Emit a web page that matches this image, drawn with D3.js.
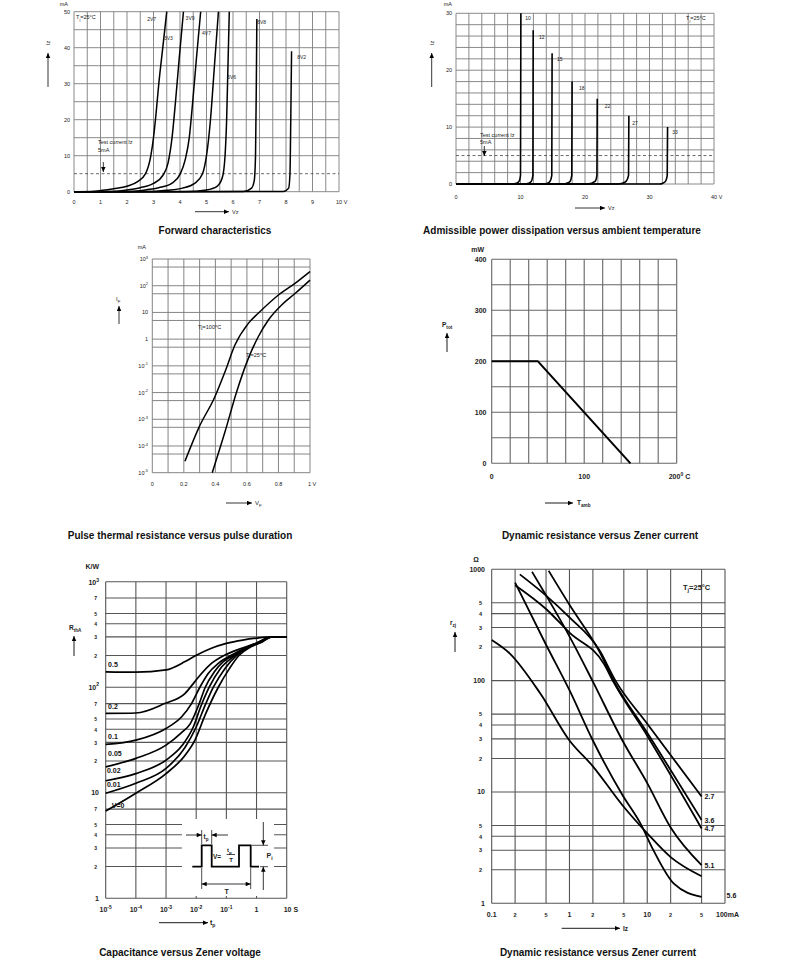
<!DOCTYPE html>
<meta charset="utf-8">
<head>
<title>Zener diode characteristics</title>
<style>
body {
  margin: 0;
  background: #fff;
  font-family: "Liberation Sans", Arial, sans-serif;
}
.curve {
  fill: none;
  stroke: #000;
  stroke-linejoin: round;
}
.title {
  font: bold 10px "Liberation Sans", Arial, sans-serif;
  fill: #111;
}
</style>
</head>
<body>
<script src="https://d3js.org/d3.v7.min.js"></script>
<script>

// ---------- data ----------

// Forward characteristics: Vz (V), Iz (mA)
var fwdNames = ["2V7", "3V3", "3V9", "4V7", "5V6", "6V8", "8V2"];
var fwd2V7 = [[0,0],[0.6,0.02],[1,0.3],[1.5,0.8],[2,1.5],[2.4,2.8],[2.7,5],[2.9,10],[3.0,15],[3.1,22],[3.2,30],[3.35,40],[3.5,50]];
var fwd3V3 = [[0,0],[1.3,0.05],[2,0.5],[2.5,1.1],[3,2.3],[3.35,4.5],[3.55,8],[3.7,15],[3.83,25],[3.97,37],[4.13,50]];
var fwd3V9 = [[0,0],[2,0.05],[2.7,0.5],[3.2,1.1],[3.7,2.4],[4.0,4.8],[4.2,9],[4.35,15],[4.48,25],[4.62,37],[4.78,50]];
var fwd4V7 = [[0,0],[2.8,0.05],[3.5,0.4],[4.1,1],[4.55,2.3],[4.85,5],[5.0,10],[5.15,20],[5.3,35],[5.45,50]];
var fwd5V6 = [[0,0],[4.2,0.05],[5,0.5],[5.4,1.5],[5.6,4],[5.7,10],[5.76,20],[5.81,35],[5.86,50]];
var fwd6V8 = [[0,0],[6.4,0.05],[6.7,1],[6.8,3],[6.85,10],[6.88,30],[6.9,48]];
var fwd8V2 = [[0,0],[7.9,0.05],[8.1,1],[8.15,5],[8.18,20],[8.21,39]];
var fwdLabelAt = [[2.93,48],[3.56,42.6],[4.38,48.2],[5.0,44],[5.95,32],[7.08,47.2],[8.59,37.5]];
var fwdXTicks = [0,1,2,3,4,5,6,7,8,9,10];
var fwdYTicks = [0,10,20,30,40,50];

// Second panel: Vz (V), Iz (mA)
var zNames = ["10", "12", "15", "18", "22", "27", "33"];
var z10 = [[0,0],[8.6,0.01],[9.4,0.15],[9.8,0.5],[10.0,1.5],[10.06,30]];
var z12 = [[0,0],[10.5,0.01],[11.3,0.15],[11.7,0.5],[11.92,1.5],[11.97,27]];
var z15 = [[0,0],[13.5,0.01],[14.2,0.15],[14.6,0.5],[14.85,1.5],[14.9,23]];
var z18 = [[0,0],[16.5,0.01],[17.2,0.15],[17.7,0.5],[17.95,1.5],[18.0,18]];
var z22 = [[0,0],[20.3,0.01],[21.0,0.15],[21.6,0.5],[21.85,1.5],[21.9,15]];
var z27 = [[0,0],[25.0,0.01],[25.8,0.15],[26.4,0.5],[26.75,1.5],[26.8,12]];
var z33 = [[0,0],[31.5,0.01],[32.1,0.15],[32.5,0.5],[32.75,1.5],[32.8,10]];
var zLabelAt = [[11.16,29.2],[13.3,25.9],[16.1,21.9],[19.5,16.8],[23.5,13.7],[27.75,10.8],[33.95,9.2]];
var zXTicks = [0,10,20,30,40];
var zYTicks = [0,10,20,30];

// Forward current: VF (V), IF (mA)
var if100 = [[0.207,2.7e-5],[0.296,5e-4],[0.397,7e-3],[0.461,6e-2],[0.524,0.6],[0.609,3.9],[0.672,9.3],[0.8,45],[0.905,123],[1.0,340]];
var if25 = [[0.38,1e-5],[0.461,3.4e-4],[0.535,1.07e-2],[0.609,0.19],[0.672,1.23],[0.736,5.2],[0.82,19],[0.905,51],[1.0,162]];
var ifXTicks = [0,0.2,0.4,0.6,0.8,1];
var ifYExp = [-5,-4,-3,-2,-1,0,1,2,3];

// Ptot (mW) vs Tamb (deg C)
var ptot = [[0,200],[50,200],[150,0]];
var ptXTicks = [0,100,200];
var ptYTicks = [0,100,200,300,400];

// Thermal resistance RthA (K/W) vs tp (s), for duty cycle V
var rthNames = ["0.5", "0.2", "0.1", "0.05", "0.02", "0.01", "V=0"];
var rth05 = [[1e-5,140],[1e-4,139],[1e-3,146],[4.3e-3,175],[1.05e-2,202],[3.2e-2,234],[0.1,260],[0.35,280],[1,292],[3.2,300],[10,300]];
var rth02 = [[1e-5,56.5],[1e-4,57],[9e-4,70],[4.3e-3,87.5],[9e-3,113],[1.5e-2,135],[3.2e-2,168],[9e-2,202],[0.32,234],[1,262],[3.2,300],[10,300]];
var rth01 = [[1e-5,28.7],[1e-4,31.5],[1e-3,40.7],[3.3e-3,52.5],[7e-3,70],[1.35e-2,101],[2.5e-2,135],[5.4e-2,168],[0.15,202],[0.42,234],[1.15,262],[3.2,300],[10,300]];
var rth005 = [[1e-5,17.6],[1e-4,21.2],[1e-3,28.3],[3.2e-3,37],[6.3e-3,45],[1.26e-2,70],[2e-2,100],[4e-2,140],[7.9e-2,175],[0.17,200],[0.4,235],[1,262],[3.2,300],[10,300]];
var rth002 = [[1e-5,13],[1e-4,15.2],[1e-3,20.4],[3.5e-3,28.3],[8e-3,42],[1.4e-2,65],[2.7e-2,100],[6.3e-2,150],[0.195,200],[0.5,240],[1.26,265],[3.2,300],[10,300]];
var rth001 = [[1e-5,9.9],[1e-4,12.3],[1e-3,17],[4.3e-3,27],[1e-2,42],[2e-2,68],[3.7e-2,100],[8.9e-2,150],[0.22,200],[0.56,240],[1.4,268],[3.2,300],[10,300]];
var rth0 = [[1e-5,6.7],[1e-4,9.9],[1e-3,15.2],[4.3e-3,22.7],[9.1e-3,31.6],[2e-2,55],[5.4e-2,100],[0.126,150],[0.26,200],[0.63,240],[1.6,270],[3.2,300],[10,300]];
var rthLabelAt = [[1.2e-5,166],[1.2e-5,66],[1.2e-5,34.5],[1.2e-5,23.3],[1.1e-5,16.1],[1.1e-5,12.1],[1.6e-5,7.5]];
var rthXExp = [-5,-4,-3,-2,-1,0,1];
var rthYTicks = [1000,700,500,400,300,200,100,70,50,40,30,20,10,7,5,4,3,2,1];

// Dynamic resistance rzj (ohm) vs Iz (mA)
var rzNames = ["2.7", "3.6", "4.7", "5.1", "5.6", ""];
var rz27 = [[0.23,900],[0.5,580],[1,370],[2.4,190],[3.9,100],[10,41],[50,9.1]];
var rz36 = [[0.54,970],[1,480],[2.4,185],[3.7,100],[10,34],[50,5.6]];
var rz47 = [[0.2,720],[0.5,440],[1,270],[2.8,140],[3.6,100],[10,32],[50,4.7]];
var rz51 = [[0.33,950],[0.51,570],[1,250],[2,98],[4.8,29],[10,12],[20,4.8],[50,2.2]];
var rz56 = [[0.2,760],[0.5,210],[1,82],[2,29],[4.8,9.4],[8.2,5.2],[12,3],[22,1.5],[50,1.14]];
var rzLow = [[0.1,232],[0.17,176],[0.42,77],[1,29],[2,17],[4.8,7.6],[10,4.25],[20,2.6],[50,1.75]];
var rzXTicks = [0.1,0.2,0.5,1,2,5,10,20,50,100];
var rzXText = ["0.1","2","5","1","2","5","10","2","5","100mA"];
var rzYTicks = [1000,500,400,300,200,100,50,40,30,20,10,5,4,3,2,1];
var rzYText = ["1000","5","4","3","2","100","5","4","3","2","10","5","4","3","2","1"];

// ---------- canvas ----------

var svg = d3.select("body").append("svg")
    .attr("width", 790)
    .attr("height", 971);

svg.append("defs").append("marker")
    .attr("id", "ah")
    .attr("viewBox", "0 0 10 10")
    .attr("refX", 10)
    .attr("refY", 5)
    .attr("markerWidth", 6)
    .attr("markerHeight", 5)
    .attr("markerUnits", "userSpaceOnUse")
    .attr("orient", "auto-start-reverse")
    .append("path")
    .attr("d", "M0,0.5L10,5L0,9.5z")
    .attr("fill", "#000");

// ---------- helpers ----------

function txt(g, x, y, s, o) {
    o = o || {};
    return g.append("text")
        .attr("x", x)
        .attr("y", y)
        .attr("font-size", o.size || 5.5)
        .attr("font-weight", o.bold ? "bold" : null)
        .attr("text-anchor", o.anchor || "start")
        .attr("fill", o.fill || "#222")
        .text(s);
}

// text with a raised or lowered tail (10^-3, I_F ...), optional normal text after it
function txt2(g, x, y, a, b, o, down, c) {
    var t = txt(g, x, y, "", o), sz = o.size || 5.5;
    var dy = down ? sz * 0.3 : -sz * 0.45;
    t.append("tspan").text(a);
    t.append("tspan")
        .attr("dy", dy)
        .attr("font-size", sz * 0.72)
        .text(b);
    if (c) t.append("tspan").attr("dy", -dy).attr("font-size", sz).text(c);
    return t;
}

function grid(g, x, y, xv, yv, col, w) {
    var yr = y.range(), xr = x.range();
    g.selectAll(null).data(xv).enter().append("line")
        .attr("x1", function(d) { return x(d); })
        .attr("x2", function(d) { return x(d); })
        .attr("y1", yr[0]).attr("y2", yr[1])
        .attr("stroke", col).attr("stroke-width", w);
    g.selectAll(null).data(yv).enter().append("line")
        .attr("x1", xr[0]).attr("x2", xr[1])
        .attr("y1", function(d) { return y(d); })
        .attr("y2", function(d) { return y(d); })
        .attr("stroke", col).attr("stroke-width", w);
}

function curve(g, x, y, pts, w, kind) {
    var line = d3.line()
        .x(function(d) { return x(d[0]); })
        .y(function(d) { return y(d[1]); })
        .curve(kind || d3.curveMonotoneX);
    return g.append("path").datum(pts)
        .attr("class", "curve")
        .attr("stroke-width", w)
        .attr("d", line);
}

function arrow(g, x1, y1, x2, y2, w) {
    return g.append("line")
        .attr("x1", x1).attr("y1", y1).attr("x2", x2).attr("y2", y2)
        .attr("stroke", "#000").attr("stroke-width", w || 0.8)
        .attr("marker-end", "url(#ah)");
}

function title(s, x, y) {
    svg.append("text").attr("class", "title")
        .attr("x", x).attr("y", y)
        .attr("text-anchor", "middle")
        .text(s);
}

// ---------- panel 1: forward characteristics ----------

var g1 = svg.append("g");
var x1 = d3.scaleLinear().domain([0, 10]).range([74, 339]);
var y1 = d3.scaleLinear().domain([0, 50]).range([191.7, 11.7]);

grid(g1, x1, y1, x1.ticks(20), y1.ticks(10).filter(function(d) { return d != 5; }), "#7d7d7d", 0.9);
g1.append("line")
    .attr("x1", x1(0)).attr("x2", x1(10)).attr("y1", y1(5)).attr("y2", y1(5))
    .attr("stroke", "#444").attr("stroke-width", 0.8).attr("stroke-dasharray", "3,2.5");

[fwd2V7, fwd3V3, fwd3V9, fwd4V7, fwd5V6, fwd6V8, fwd8V2].forEach(function(c) {
    curve(g1, x1, y1, c, 1.5);
});
fwdNames.forEach(function(n, i) {
    txt(g1, x1(fwdLabelAt[i][0]), y1(fwdLabelAt[i][1]) + 2, n, {anchor: "middle", size: 5});
});

fwdXTicks.forEach(function(d) {
    if (d == 10) txt(g1, x1(d) - 3, 204, "10 V", {size: 5.5});
    else txt(g1, x1(d), 204, d, {anchor: "middle", size: 5.5});
});
fwdYTicks.forEach(function(d) {
    txt(g1, 70, y1(d) + 2, d, {anchor: "end", size: 5.5});
});
txt(g1, 68, 6, "mA", {anchor: "end", size: 5.5});
txt2(g1, 76, 19, "T", "j", {size: 5.5}, true, "=25°C");
txt(g1, 98, 143.5, "Test current Iz", {size: 5.5});
txt(g1, 98, 152, "5mA", {size: 5.5});
arrow(g1, 103.3, 162, 103.3, 172, 0.8);
arrow(g1, 195, 211.7, 229, 211.7, 0.8);
txt(g1, 232, 213.7, "Vz", {size: 5.5});
txt(g1, 0, 0, "Iz", {size: 5.5, anchor: "middle"}).attr("transform", "translate(50,43) rotate(-90)");
arrow(g1, 48, 87, 48, 53, 0.8);

title("Forward characteristics", 215, 234);

// ---------- panel 2 ----------

var g2 = svg.append("g");
var x2 = d3.scaleLinear().domain([0, 40]).range([456, 714]);
var y2 = d3.scaleLinear().domain([0, 30]).range([184, 13.3]);

grid(g2, x2, y2, x2.ticks(20), y2.ticks(15), "#7d7d7d", 0.9);
g2.append("line")
    .attr("x1", x2(0)).attr("x2", x2(40)).attr("y1", y2(5)).attr("y2", y2(5))
    .attr("stroke", "#444").attr("stroke-width", 0.8).attr("stroke-dasharray", "3,2.5");

[z10, z12, z15, z18, z22, z27, z33].forEach(function(c) {
    curve(g2, x2, y2, c, 1.6);
});
zNames.forEach(function(n, i) {
    txt(g2, x2(zLabelAt[i][0]), y2(zLabelAt[i][1]) + 2, n, {anchor: "middle", size: 5});
});

zXTicks.forEach(function(d) {
    if (d == 40) txt(g2, x2(d) - 3, 199, "40 V", {size: 5.5});
    else txt(g2, x2(d), 199, d, {anchor: "middle", size: 5.5});
});
zYTicks.forEach(function(d) {
    txt(g2, 452, y2(d) + 2, d, {anchor: "end", size: 5.5});
});
txt(g2, 452, 6, "mA", {anchor: "end", size: 5.5});
txt2(g2, 686, 20, "T", "j", {size: 5.5}, true, "=25°C");
txt(g2, 480, 137, "Test current Iz", {size: 5.5});
txt(g2, 480, 144, "5mA", {size: 5.5});
arrow(g2, 484.3, 146, 484.3, 156, 0.8);
arrow(g2, 575, 208, 605, 208, 0.8);
txt(g2, 608, 210, "Vz", {size: 5.5});
txt(g2, 0, 0, "Iz", {size: 5.5, anchor: "middle"}).attr("transform", "translate(433.5,43) rotate(-90)");
arrow(g2, 431.7, 87, 431.7, 53, 0.8);

title("Admissible power dissipation versus ambient temperature", 562, 234);

// ---------- panel 3 ----------

var g3 = svg.append("g");
var x3 = d3.scaleLinear().domain([0, 1]).range([152.3, 310]);
var y3 = d3.scaleLog().domain([1e-5, 1e3]).range([472.7, 259]);
var ifDec = ifYExp.map(function(e) { return Math.pow(10, e); });
var ifFive = ifDec.slice(0, -1).map(function(d) { return d * 5; });

grid(g3, x3, y3, x3.ticks(10), ifDec.concat(ifFive), "#777", 0.9);
curve(g3, x3, y3, if100, 1.5);
curve(g3, x3, y3, if25, 1.5);

txt2(g3, 198, 329, "Tj=100", "o", {size: 5.5}, false, "C");
txt2(g3, 246, 357, "Tj=25", "o", {size: 5.5}, false, "C");

ifXTicks.forEach(function(d) {
    if (d == 1) txt(g3, x3(d) - 2, 485.5, "1 V", {size: 5.5});
    else txt(g3, x3(d), 485.5, d, {anchor: "middle", size: 5.5});
});
ifYExp.forEach(function(e) {
    var yy = y3(Math.pow(10, e)) + 2;
    if (e == 0) txt(g3, 148, yy, "1", {anchor: "end", size: 5.5});
    else if (e == 1) txt(g3, 148, yy, "10", {anchor: "end", size: 5.5});
    else txt2(g3, 148, yy, "10", e, {anchor: "end", size: 5.5});
});
txt(g3, 146, 249, "mA", {anchor: "end", size: 5.5});
txt2(g3, 116, 301, "I", "F", {size: 6}, true);
arrow(g3, 119, 324, 119, 306, 0.8);
arrow(g3, 226, 503, 252, 503, 0.8);
txt2(g3, 255, 505, "V", "F", {size: 6}, true);

title("Pulse thermal resistance versus pulse duration", 180, 539);

// ---------- panel 4 ----------

var g4 = svg.append("g");
var x4 = d3.scaleLinear().domain([0, 200]).range([491.7, 676.7]);
var y4 = d3.scaleLinear().domain([0, 400]).range([463.3, 259.3]);

grid(g4, x4, y4, x4.ticks(10), y4.ticks(8), "#666", 1.1);
curve(g4, x4, y4, ptot, 2, d3.curveLinear).attr("stroke-linejoin", "miter");

ptXTicks.forEach(function(d) {
    if (d == 200) txt2(g4, x4(d) - 8, 479, "200", "0", {size: 7, bold: true}, false, " C");
    else txt(g4, x4(d), 479, d, {anchor: "middle", size: 7, bold: true});
});
ptYTicks.forEach(function(d) {
    txt(g4, 486.5, y4(d) + 2.5, d, {anchor: "end", size: 7, bold: true});
});
txt(g4, 484, 252, "mW", {anchor: "end", size: 7, bold: true});
txt2(g4, 442, 327, "P", "tot", {size: 6.5, bold: true}, true);
arrow(g4, 447, 352, 447, 333, 0.9);
arrow(g4, 545, 503, 573, 503, 0.9);
txt2(g4, 577, 505, "T", "amb", {size: 6.5, bold: true}, true);

title("Dynamic resistance versus Zener current", 600, 539);

// ---------- panel 5 ----------

var g5 = svg.append("g");
var x5 = d3.scaleLog().domain([1e-5, 10]).range([105.7, 286.7]);
var y5 = d3.scaleLog().domain([1, 1000]).range([898.3, 581.7]);
var rthXs = rthXExp.map(function(e) { return Math.pow(10, e); });

grid(g5, x5, y5, rthXs, rthYTicks, "#555", 1.1);

// pulse sketch sits on a cleared patch of the grid
g5.append("rect").attr("x", 182).attr("y", 819).attr("width", 92).attr("height", 77).attr("fill", "#fff");

[rth05, rth02, rth01, rth005, rth002, rth001, rth0].forEach(function(c) {
    curve(g5, x5, y5, c, 1.7);
});
rthNames.forEach(function(n, i) {
    txt(g5, x5(rthLabelAt[i][0]), y5(rthLabelAt[i][1]) + 2.5, n, {size: 7, bold: true, fill: "#111"});
});

rthXExp.forEach(function(e) {
    var xx = x5(Math.pow(10, e));
    if (e == 0) txt(g5, xx, 912, "1", {anchor: "middle", size: 7, bold: true});
    else if (e == 1) txt(g5, xx - 3, 912, "10 S", {size: 7, bold: true});
    else txt2(g5, xx, 912, "10", e, {anchor: "middle", size: 7, bold: true});
});
rthYTicks.forEach(function(d) {
    var yy = y5(d) + 2.3;
    if (d == 1000) txt2(g5, 99, yy + 1, "10", "3", {anchor: "end", size: 7, bold: true});
    else if (d == 100) txt2(g5, 99, yy, "10", "2", {anchor: "end", size: 7, bold: true});
    else if (d == 10 || d == 1) txt(g5, 99, yy, d, {anchor: "end", size: 7, bold: true});
    else txt(g5, 97, yy, String(d).charAt(0), {anchor: "end", size: 5, bold: true});
});
txt(g5, 99, 569, "K/W", {anchor: "end", size: 7, bold: true});
txt2(g5, 69, 630, "R", "thA", {size: 6.5, bold: true}, true);
arrow(g5, 74, 656, 74, 636, 0.9);
arrow(g5, 159, 922.7, 208, 922.7, 0.9);
txt2(g5, 210, 925, "t", "p", {size: 7, bold: true}, true);

// pulse sketch
var ps = g5.append("g");
ps.append("path")
    .attr("d", "M192.3,866.7H201.7V845.3H211.7V866.7H239V845.3H250.7V866.7H259")
    .attr("fill", "none").attr("stroke", "#000").attr("stroke-width", 1.8);
ps.append("path")
    .attr("d", "M201.7,844V830M211.7,844V830M201.7,868V889M250.7,868V889M252,845.3H268M260,866.7H268")
    .attr("fill", "none").attr("stroke", "#000").attr("stroke-width", 0.7);
arrow(ps, 186, 835, 201.7, 835, 0.8);
arrow(ps, 228, 835, 211.7, 835, 0.8);
ps.append("line")
    .attr("x1", 201.7).attr("x2", 250.7).attr("y1", 884).attr("y2", 884)
    .attr("stroke", "#000").attr("stroke-width", 0.8)
    .attr("marker-start", "url(#ah)").attr("marker-end", "url(#ah)");
arrow(ps, 263.3, 822, 263.3, 845.3, 0.8);
arrow(ps, 263.3, 890, 263.3, 866.7, 0.8);
txt2(ps, 203.5, 839, "t", "p", {size: 6.5, bold: true}, true);
txt(ps, 213, 858.5, "V=", {size: 6.5, bold: true});
txt2(ps, 227, 852, "t", "p", {size: 6, bold: true}, true);
ps.append("line").attr("x1", 226.5).attr("x2", 235).attr("y1", 854.5).attr("y2", 854.5)
    .attr("stroke", "#000").attr("stroke-width", 0.7);
txt(ps, 231, 862, "T", {size: 6, bold: true, anchor: "middle"});
txt(ps, 226.7, 894, "T", {size: 7, bold: true, anchor: "middle"});
txt2(ps, 266.5, 858, "P", "i", {size: 7, bold: true}, true);

title("Capacitance versus Zener voltage", 180, 956);

// ---------- panel 6 ----------

var g6 = svg.append("g");
var x6 = d3.scaleLog().domain([0.1, 100]).range([491.7, 725]);
var y6 = d3.scaleLog().domain([1, 1000]).range([903.3, 569.3]);

grid(g6, x6, y6, rzXTicks, rzYTicks, "#555", 1.1);

var rzCurves = [rz27, rz36, rz47, rz51, rz56, rzLow];
rzCurves.forEach(function(c, i) {
    curve(g6, x6, y6, c, 1.8);
    var end = c[c.length - 1];
    var dx = i == 4 ? 25 : 3;
    var dy = i == 4 ? 1 : 2.5;
    if (rzNames[i]) txt(g6, x6(end[0]) + dx, y6(end[1]) + dy, rzNames[i], {size: 7, bold: true, fill: "#111"});
});

rzXTicks.forEach(function(d, i) {
    var small = rzXText[i].length == 1 && d != 1;
    if (d == 100) txt(g6, x6(d) - 9, 916.5, rzXText[i], {size: 7, bold: true});
    else txt(g6, x6(d), 916.5, rzXText[i], {anchor: "middle", size: small ? 5.5 : 7, bold: true});
});
rzYTicks.forEach(function(d, i) {
    var small = rzYText[i].length == 1 && d != 1;
    txt(g6, small ? 482 : 485, y6(d) + 2.3, rzYText[i], {anchor: "end", size: small ? 5.5 : 7, bold: true});
});
txt(g6, 476, 562, "Ω", {anchor: "middle", size: 7, bold: true});
txt2(g6, 683, 589.5, "T", "j", {size: 7.5, bold: true}, true, "=25°C");
txt2(g6, 450, 625, "r", "zj", {size: 6.5, bold: true}, true);
arrow(g6, 455, 652, 455, 632, 0.9);
arrow(g6, 561.7, 928.3, 620, 928.3, 0.9);
txt(g6, 623, 930.5, "Iz", {size: 6.5, bold: true});

title("Dynamic resistance versus Zener current", 598, 956);

</script>
</body>
